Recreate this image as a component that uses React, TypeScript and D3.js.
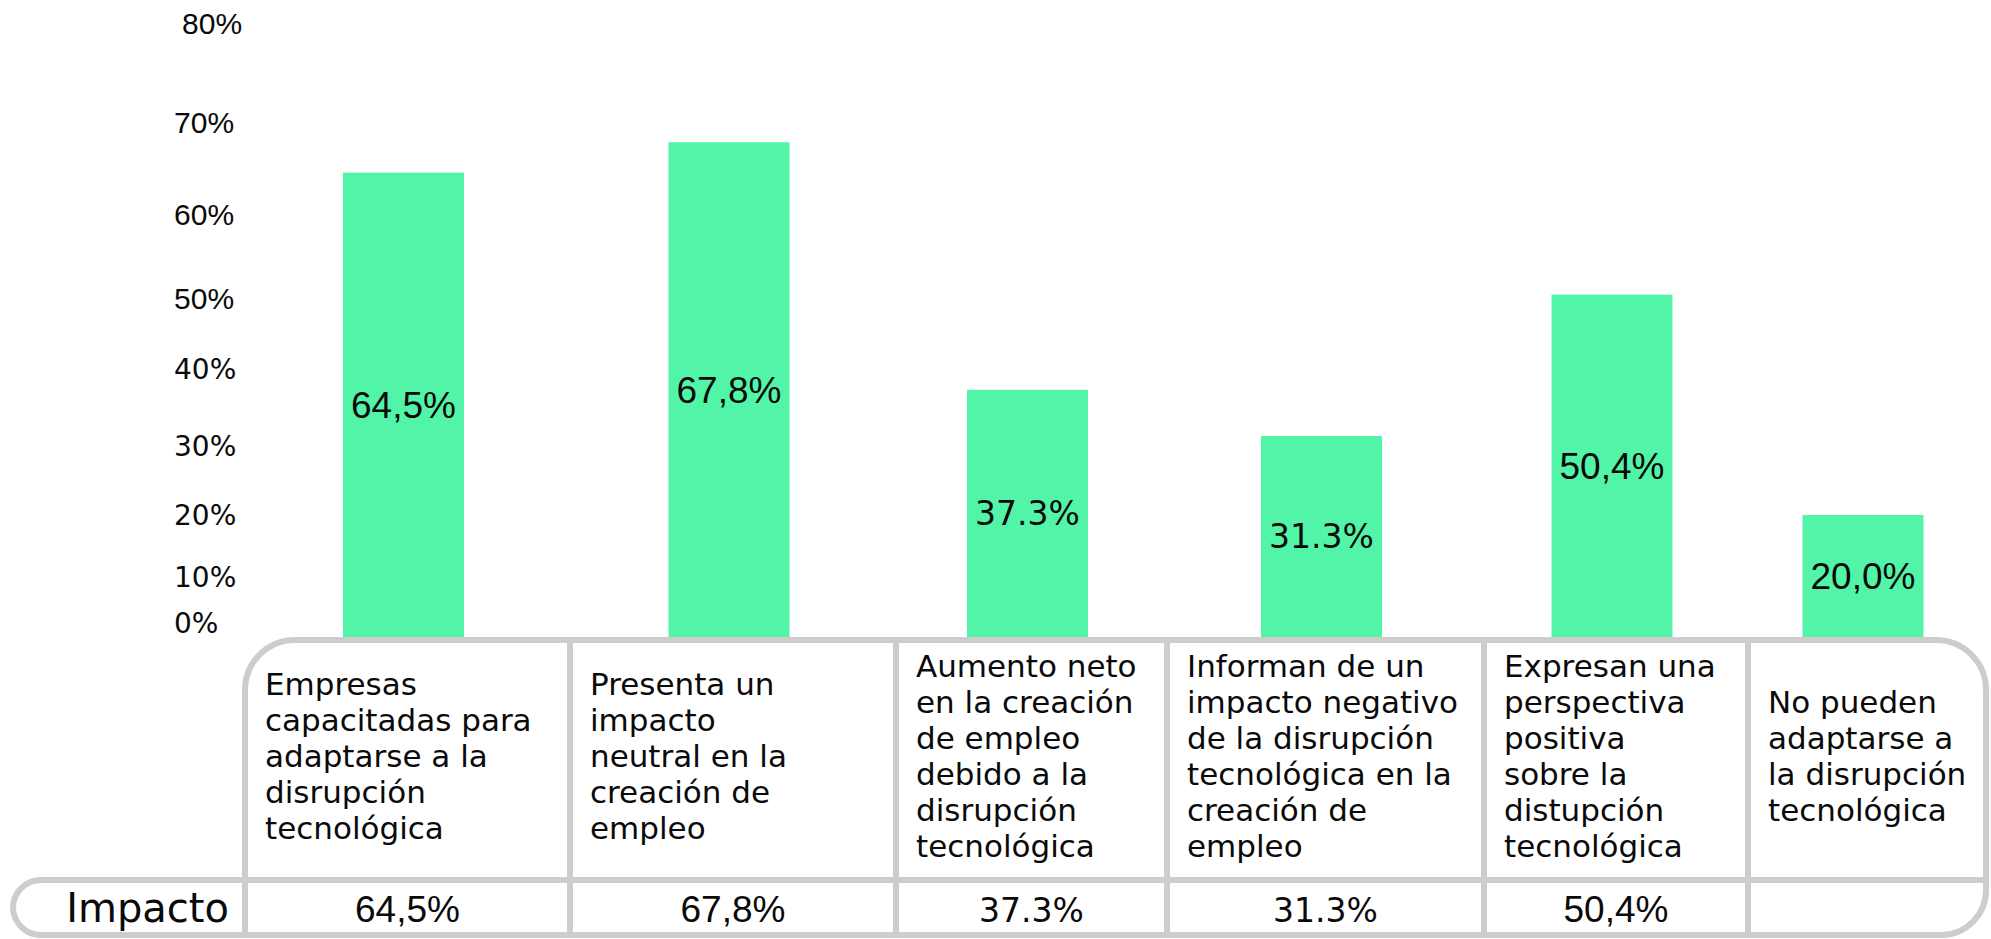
import React from "react";
import * as d3 from "d3";

// ---------- DATA ----------
const categories: string[][] = [
  ["Empresas", "capacitadas para", "adaptarse a la", "disrupción", "tecnológica"],
  ["Presenta un", "impacto", "neutral en la", "creación de", "empleo"],
  ["Aumento neto", "en la creación", "de empleo", "debido a la", "disrupción", "tecnológica"],
  ["Informan de un", "impacto negativo", "de la disrupción", "tecnológica en la", "creación de", "empleo"],
  ["Expresan una", "perspectiva", "positiva", "sobre la", "distupción", "tecnológica"],
  ["No pueden", "adaptarse a", "la disrupción", "tecnológica"],
];
const values: number[] = [64.5, 67.8, 37.3, 31.3, 50.4, 20.0];
const barLabels: string[] = ["64,5%", "67,8%", "37.3%", "31.3%", "50,4%", "20,0%"];
const impactoLabels: string[] = ["64,5%", "67,8%", "37.3%", "31.3%", "50,4%", ""];
const rowTitle = "Impacto";
const yTicks: number[] = [0, 10, 20, 30, 40, 50, 60, 70, 80];

// ---------- LAYOUT ----------
const W = 1991;
const H = 939;
const tableLeft = 13;
const colEdges = [245, 570, 896, 1167, 1484, 1748, 1986];
const tableTop = 640;
const rowDiv = 880;
const tableBottom = 935;
const tickPos = [623, 577, 515, 446, 369, 298, 214, 122, 23];
const barWidth = 121;
const barShift = -4;
const lineH = 36;

const ARIAL = "'Liberation Sans', Arial, sans-serif";
const GEO = "'DejaVu Sans', sans-serif";
const GREEN = "#52f5a8";
const GRID = "#cdcdcb";
const INK = "#0a0a0a";

const y = d3.scaleLinear().domain(yTicks).range(tickPos);
const idx = d3.range(categories.length);
const cell = d3
  .scaleOrdinal<number, number>()
  .domain(idx)
  .range(idx.map((i) => (colEdges[i] + colEdges[i + 1]) / 2));
const x = (i: number) => cell(i) + barShift;

const fontFor = (s: string) => (s.includes(".") ? GEO : ARIAL);
const sizeFor = (s: string) => (s.includes(".") ? 33 : 37);

function framePath() {
  const R1 = 50;
  const R2 = 45;
  const R3 = 28;
  const right = colEdges[colEdges.length - 1];
  const left = colEdges[0];
  const p = d3.path();
  p.moveTo(left, rowDiv);
  p.lineTo(left, tableTop + R1);
  p.arcTo(left, tableTop, left + R1, tableTop, R1);
  p.lineTo(right - R1, tableTop);
  p.arcTo(right, tableTop, right, tableTop + R1, R1);
  p.lineTo(right, tableBottom - R2);
  p.arcTo(right, tableBottom, right - R2, tableBottom, R2);
  p.lineTo(tableLeft + R3, tableBottom);
  p.arcTo(tableLeft, tableBottom, tableLeft, tableBottom - R3, R3);
  p.lineTo(tableLeft, rowDiv + R3);
  p.arcTo(tableLeft, rowDiv, tableLeft + R3, rowDiv, R3);
  p.lineTo(right, rowDiv);
  // vertical separators
  p.moveTo(left, rowDiv);
  p.lineTo(left, tableBottom);
  for (let i = 1; i < colEdges.length - 1; i++) {
    p.moveTo(colEdges[i], tableTop);
    p.lineTo(colEdges[i], tableBottom);
  }
  return p.toString();
}

export default function App() {
  const barBottom = tableTop - 3;
  const headerMid = (tableTop + rowDiv) / 2;
  return (
    <div style={{ position: "absolute", left: 0, top: 0 }}>
      <svg width={W} height={H} viewBox={`0 0 ${W} ${H}`} style={{ display: "block", background: "#fff" }}>
        {/* y tick labels */}
        {yTicks.map((t) => (
          <text
            key={t}
            x={t === 80 ? 182 : 174}
            y={y(t)}
            dy="0.36em"
            fontFamily={t >= 50 ? ARIAL : GEO}
            fontSize={t >= 50 ? 30 : 28}
            fill={INK}
          >
            {t}%
          </text>
        ))}

        {/* bars */}
        {values.map((v, i) => (
          <rect
            key={i}
            x={x(i) - barWidth / 2}
            y={y(v)}
            width={barWidth}
            height={barBottom - y(v)}
            fill={GREEN}
          />
        ))}
        {values.map((v, i) => (
          <text
            key={"l" + i}
            x={x(i)}
            y={(y(v) + barBottom) / 2}
            dy="0.36em"
            textAnchor="middle"
            fontFamily={fontFor(barLabels[i])}
            fontSize={sizeFor(barLabels[i])}
            fill={INK}
          >
            {barLabels[i]}
          </text>
        ))}

        {/* table frame */}
        <path d={framePath()} fill="none" stroke={GRID} strokeWidth={6} />

        {/* header texts */}
        {categories.map((lines, i) => {
          const first = headerMid - ((lines.length - 1) / 2) * lineH + 7;
          return (
            <text key={"h" + i} fontFamily={GEO} fontSize={31} fill={INK}>
              {lines.map((ln, j) => (
                <tspan key={j} x={colEdges[i] + 20} y={first + j * lineH}>
                  {ln}
                </tspan>
              ))}
            </text>
          );
        })}

        {/* Impacto row */}
        <text x={colEdges[0] - 16} y={922} textAnchor="end" fontFamily={GEO} fontSize={40} fill={INK}>
          {rowTitle}
        </text>
        {impactoLabels.map((s, i) => (
          <text
            key={"r" + i}
            x={cell(i)}
            y={922}
            textAnchor="middle"
            fontFamily={fontFor(s)}
            fontSize={sizeFor(s)}
            fill={INK}
          >
            {s}
          </text>
        ))}
      </svg>
    </div>
  );
}
